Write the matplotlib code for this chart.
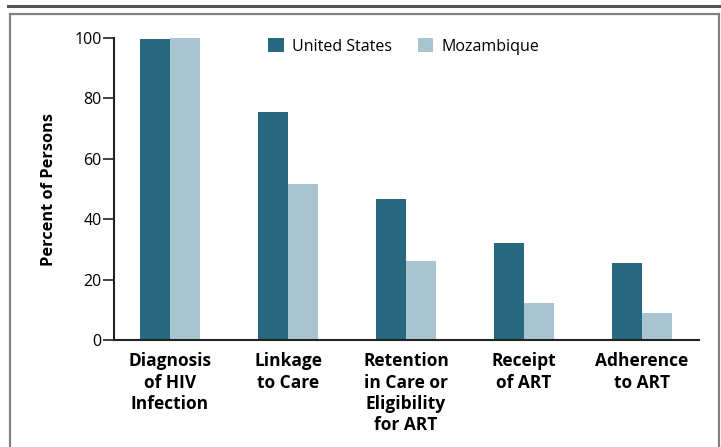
import numpy as np
import matplotlib.pyplot as plt
from matplotlib.lines import Line2D
from matplotlib.patches import Rectangle

# values
stages = ["Diagnosis\nof HIV\nInfection", "Linkage\nto Care",
          "Retention\nin Care or\nEligibility\nfor ART", "Receipt\nof ART",
          "Adherence\nto ART"]
us_vals = [99.7, 75.5, 46.7, 32.1, 25.5]
moz_vals = [100.0, 51.7, 26.2, 12.3, 8.9]
yticks = [0, 20, 40, 60, 80, 100]

us_color = "#29697f"
moz_color = "#a9c4d1"
plt.rcParams['font.family'] = ['Open Sans', 'DejaVu Sans']

W, H = 721, 447
fig = plt.figure(figsize=(W / 100, H / 100), dpi=100)
ax = fig.add_axes([114 / W, 107 / H, 585 / W, 302 / H])

x = np.arange(len(stages))
bw = 0.255
ax.bar(x - bw / 2, us_vals, bw, color=us_color, label="United States")
ax.bar(x + bw / 2, moz_vals, bw, color=moz_color, label="Mozambique")

ax.set_xlim(-0.475, 4.483)
ax.set_ylim(0, 100)
ax.set_yticks(yticks)
ax.tick_params(axis='y', length=8, width=1.2, pad=1, labelsize=11.5, color='#222222')
ax.set_xticks(x)
ax.set_xticklabels(stages, fontsize=12.5, fontweight='bold', linespacing=1.22)
ax.tick_params(axis='x', length=0, pad=9)
for s in ['top', 'right']:
    ax.spines[s].set_visible(False)
ax.spines['left'].set_linewidth(1.5)
ax.spines['bottom'].set_linewidth(1.5)
ax.spines['left'].set_color('#222222')
ax.spines['bottom'].set_color('#222222')

ax.set_ylabel("Percent of Persons", fontsize=11.8, fontweight='bold')
ax.yaxis.set_label_coords(-0.097, 0.5)

ax.legend(loc='center left', bbox_to_anchor=(268 / W, 1 - 46.5 / H),
          bbox_transform=fig.transFigure, ncol=2, frameon=False, fontsize=11.5,
          handlelength=1.0, handleheight=1.0, handletextpad=0.5,
          columnspacing=1.6, borderpad=0, borderaxespad=0)

# outer frame: dark rule on top, lighter box below
fig.add_artist(Line2D([8 / W, 1.0], [1 - 6 / H, 1 - 6 / H], color='#555555', lw=2.2,
                      transform=fig.transFigure))
fig.add_artist(Rectangle((9.5 / W, -0.1), (719 - 9.5) / W, 1.1 - 14 / H,
                         fill=False, edgecolor='#808080', lw=1.6,
                         transform=fig.transFigure))

fig.savefig("out.png", dpi=100)
